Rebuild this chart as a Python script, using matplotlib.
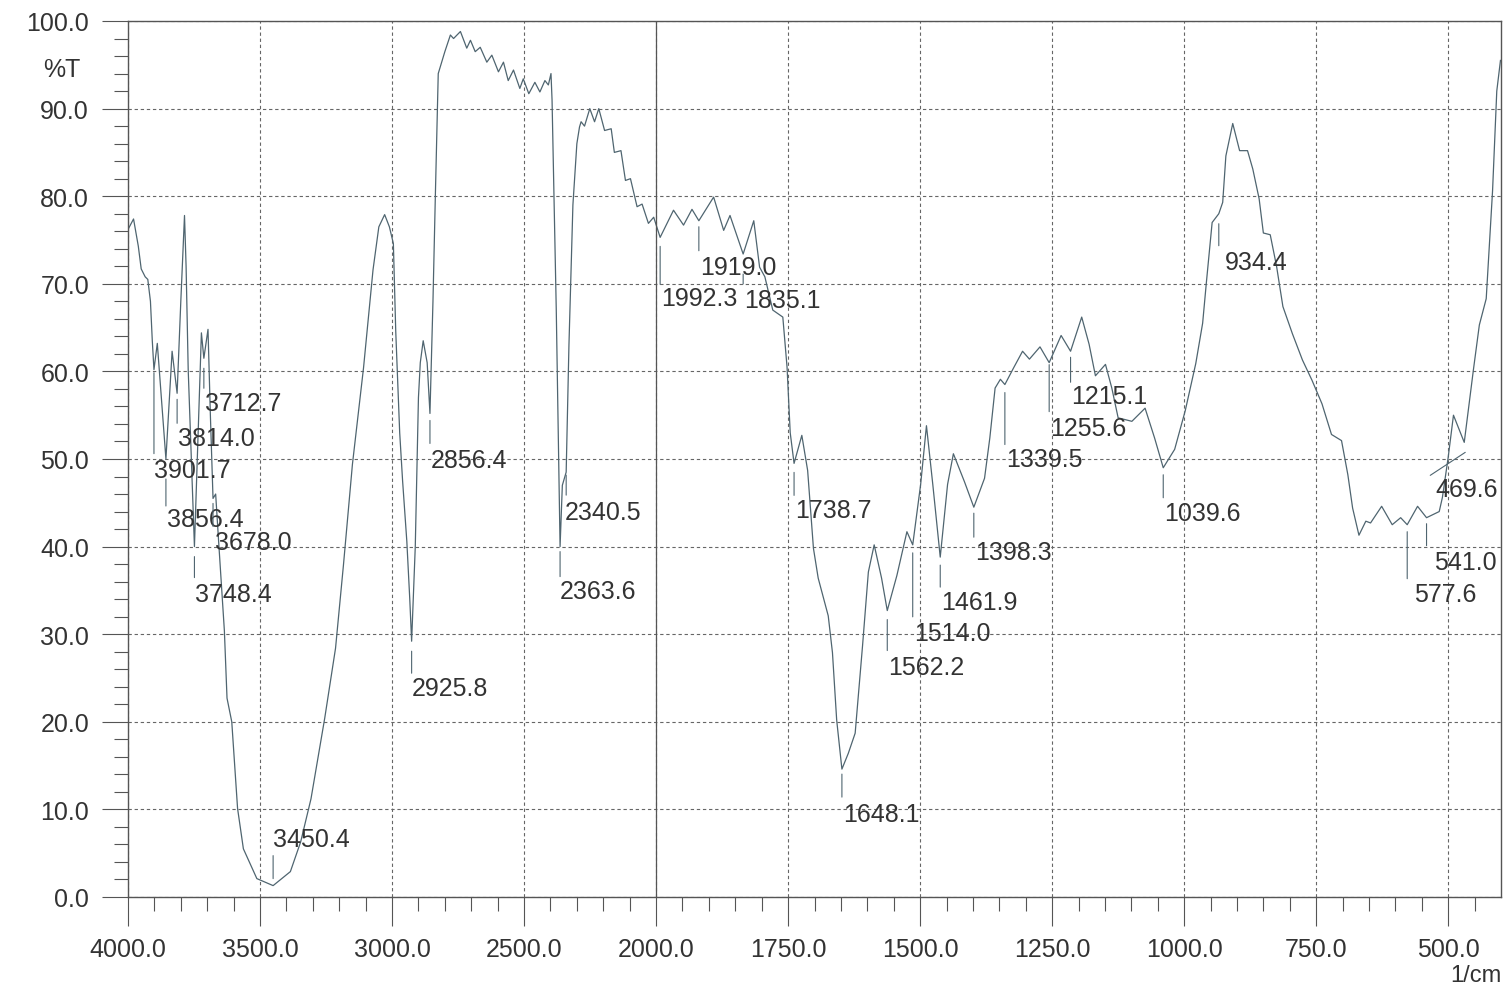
import numpy as np
import matplotlib
matplotlib.use("Agg")
from matplotlib import pyplot as plt
from matplotlib.text import OffsetFrom

plt.rcParams['font.family'] = ['Liberation Sans', 'DejaVu Sans']

# IR spectrum, wavenumber (1/cm) and transmittance (%T)
wavenumber = [
    4000, 3979, 3961, 3950, 3935, 3925, 3915, 3908, 3901.7, 3889, 3856.4, 3833,
    3814.0, 3800, 3786, 3780, 3772, 3748.4, 3722, 3712.7, 3697, 3688, 3678.0,
    3668, 3657, 3635, 3625, 3607, 3585, 3563, 3512, 3450.4, 3385, 3346, 3307,
    3255, 3214, 3184, 3150, 3108, 3072, 3050, 3028, 3010, 2995, 2986, 2971,
    2960, 2944, 2933, 2925.8, 2912, 2900, 2893, 2882, 2867, 2856.4, 2845, 2836,
    2825, 2800, 2779, 2767, 2741, 2717, 2703, 2685, 2666, 2641, 2622, 2597,
    2578, 2560, 2540, 2516, 2503, 2482, 2459, 2440, 2421, 2408, 2398, 2394,
    2378, 2363.6, 2355, 2340.5, 2330, 2315, 2300, 2290, 2284, 2271, 2251, 2233,
    2217, 2195, 2170, 2158, 2133, 2116, 2097, 2072, 2053, 2029, 2009, 1992.3,
    1967, 1948, 1932, 1919.0, 1891, 1872, 1860, 1835.1, 1815, 1804, 1794, 1779,
    1760, 1752, 1746, 1738.7, 1724, 1713, 1702, 1693, 1674, 1666, 1658, 1648.1,
    1636, 1623, 1609, 1598, 1587, 1573, 1562.2, 1544, 1525, 1514.0, 1499, 1488,
    1476, 1461.9, 1448, 1437, 1416, 1398.3, 1378, 1368, 1358, 1348, 1339.5,
    1323, 1306, 1293, 1273, 1255.6, 1233, 1215.1, 1194, 1180, 1168, 1149, 1137,
    1125, 1099, 1074, 1056, 1039.6, 1018, 998, 978, 965, 958, 947, 934.4, 927,
    921, 908, 895, 880, 870, 858, 850, 837, 825, 813, 795, 776, 758, 739, 721,
    702, 690, 681, 669, 656, 647, 626, 606, 590, 577.6, 558, 541.0, 517, 511,
    500, 490, 469.6, 452, 441, 428, 416, 408, 401,
]
transmittance = [
    76.2, 77.4, 74.3, 71.7, 70.8, 70.5, 68.0, 63.5, 60.2, 63.2, 50.0, 62.3,
    57.5, 68.0, 77.8, 72.0, 60.2, 40.0, 64.4, 61.5, 64.8, 55.0, 45.5,
    46.0, 40.7, 30.4, 22.7, 20.0, 10.1, 5.5, 2.1, 1.3, 2.9, 6.3, 11.2,
    20.4, 28.4, 37.9, 49.4, 60.4, 71.6, 76.5, 77.9, 76.5, 74.6, 64.6, 53.0,
    47.5, 40.6, 34.1, 29.2, 40.0, 57.0, 61.0, 63.5, 61.0, 55.2, 68.0, 80.0,
    94.0, 96.5, 98.4, 98.0, 98.8, 96.9, 97.8, 96.5, 97.0, 95.3, 96.1, 94.2,
    95.3, 93.2, 94.4, 92.3, 93.4, 91.7, 93.0, 91.9, 93.2, 92.7, 94.0, 91.0,
    67.0, 40.0, 47.0, 48.5, 63.0, 79.0, 86.0, 87.9, 88.5, 88.0, 90.0, 88.5,
    90.0, 87.5, 87.7, 85.0, 85.2, 81.8, 82.0, 78.8, 79.1, 76.9, 77.6, 75.3,
    78.4, 76.7, 78.5, 77.2, 79.9, 76.1, 77.8, 73.4, 77.2, 71.9, 70.8, 67.0,
    66.2, 60.5, 53.0, 49.5, 52.7, 48.7, 39.8, 36.4, 32.1, 27.9, 20.2, 14.6,
    16.4, 18.7, 28.7, 37.1, 40.2, 36.4, 32.7, 36.7, 41.7, 40.2, 47.1, 53.8,
    47.1, 38.8, 47.1, 50.6, 47.4, 44.5, 47.8, 52.4, 58.1, 59.1, 58.5,
    60.4, 62.3, 61.4, 62.8, 61.0, 64.1, 62.3, 66.2, 63.1, 59.5, 60.8, 58.1,
    54.7, 54.3, 55.8, 52.4, 49.0, 51.1, 55.5, 60.9, 65.5, 70.1, 77.0, 78.0, 79.3,
    84.6, 88.3, 85.2, 85.2, 83.1, 79.7, 75.8, 75.6, 72.0, 67.4, 64.3, 61.3, 59.0, 56.3, 52.8,
    52.1, 48.2, 44.4, 41.3, 42.9, 42.7, 44.6, 42.5, 43.3, 42.5, 44.6, 43.3, 44.0, 45.6,
    50.2, 55.0, 51.9, 60.3, 65.3, 68.3, 80.6, 92.0, 95.5,
]

# labelled peaks
peaks = [3901.7, 3856.4, 3814.0, 3748.4, 3712.7, 3678.0, 3450.4, 2925.8, 2856.4,
         2363.6, 2340.5, 1992.3, 1919.0, 1835.1, 1738.7, 1648.1, 1562.2, 1514.0,
         1461.9, 1398.3, 1339.5, 1255.6, 1215.1, 1039.6, 934.4, 577.6, 541.0, 469.6]

x_major = [4000, 3500, 3000, 2500, 2000, 1750, 1500, 1250, 1000, 750, 500]
y_major = [0, 10, 20, 30, 40, 50, 60, 70, 80, 90, 100]

# label layout, pixels below the peak: tick start, tick end, text centre, text dx
layout = {
    3901.7: (3, 84, 100, 0), 3856.4: (20, 47, 60, 1), 3814.0: (6, 30, 45, 1),
    3748.4: (10, 31, 47, 1), 3712.7: (10, 30, 45, 1), 3678.0: (5, 28, 44, 2),
    3450.4: (-7, -30, -47, 0), 2925.8: (10, 32, 47, 0), 2856.4: (7, 30, 47, 1),
    2363.6: (5, 30, 44, 0), 2340.5: (3, 23, 40, -1), 1992.3: (9, 47, 61, 1),
    1919.0: (6, 30, 46, 1), 1835.1: (20, 30, 46, 1), 1738.7: (9, 32, 47, 1),
    1648.1: (5, 28, 45, 1), 1562.2: (9, 40, 56, 1), 1514.0: (8, 72, 88, 1),
    1461.9: (8, 30, 45, 1), 1398.3: (6, 30, 45, 1), 1339.5: (8, 60, 74, 1),
    1255.6: (2, 49, 65, 1), 1215.1: (6, 31, 45, 1), 1039.6: (7, 30, 45, 1),
    934.4: (10, 32, 48, 6), 577.6: (7, 54, 69, 7), 541.0: (6, 28, 44, 7),
    469.6: (None, None, 47, -29),
}

# the instrument halves the scale above 2000 1/cm (increasing map, axis inverted)
def fwd(w):
    w = np.asarray(w, dtype=float)
    return np.where(w >= 2000, (w - 4000) / 2.0, w - 3000)


def inv(u):
    u = np.asarray(u, dtype=float)
    return np.where(u >= -1000, 4000 + 2.0 * u, u + 3000)


ink = '#333333'
line_col = '#4f6570'
grid_col = '#666666'

fig = plt.figure(figsize=(15.07, 9.87), dpi=100)
ax = fig.add_axes([128 / 1507, 89 / 987, 1373 / 1507, 876 / 987])
ax.set_xscale('function', functions=(fwd, inv))
ax.set_xlim(4000, 400)
ax.set_ylim(0, 100)

ax.plot(wavenumber, transmittance, color=line_col, lw=0.9)

ax.set_xticks(x_major)
ax.set_xticklabels(['%.1f' % v for v in x_major])
minor_x = [v for v in range(3900, 2000, -100) if v % 500] + \
          [v for v in range(1950, 400, -50) if v % 250]
ax.set_xticks(minor_x, minor=True)
ax.set_yticks(y_major)
ax.set_yticklabels(['%.1f' % v for v in y_major])
ax.set_yticks([v for v in range(2, 100, 2) if v % 10], minor=True)

ax.tick_params(axis='x', which='major', direction='out', length=21, width=0.8,
               color='#555555', labelsize=18, labelcolor=ink, pad=8)
ax.tick_params(axis='x', which='minor', direction='out', length=10, width=0.8,
               color='#555555')
ax.tick_params(axis='y', which='major', direction='out', length=19, width=0.8,
               color='#555555', labelsize=18, labelcolor=ink, pad=9)
ax.tick_params(axis='y', which='minor', direction='out', length=10, width=0.8,
               color='#555555')

ax.grid(which='major', color=grid_col, lw=0.8, linestyle=(0, (3, 2.5)))
ax.axvline(2000, color='#555555', lw=0.9)
for s in ax.spines.values():
    s.set_color('#555555')
    s.set_linewidth(1.0)

wn_rev = np.array(wavenumber)[::-1]
t_rev = np.array(transmittance)[::-1]
for p in peaks:
    tp = float(np.interp(p, wn_rev, t_rev))
    top, bot, ty, dx = layout[p]
    ref = OffsetFrom(ax.transData, (p, tp), unit='pixels')
    if top is not None:
        ax.annotate('', xy=(0, -top), xycoords=ref, xytext=(0, -bot),
                    textcoords=ref,
                    arrowprops=dict(arrowstyle='-', color=line_col, lw=0.8,
                                    shrinkA=0, shrinkB=0))
    else:
        ax.annotate('', xy=(1, -10), xycoords=ref, xytext=(-34, -33),
                    textcoords=ref,
                    arrowprops=dict(arrowstyle='-', color=line_col, lw=0.8,
                                    shrinkA=0, shrinkB=0))
    ax.annotate('%.1f' % p, xy=(dx, -ty), xycoords=ref, ha='left', va='center',
                fontsize=18, color=ink)

fig.text(80 / 1507, 1 - 70 / 987, '%T', ha='right', va='center', fontsize=18,
         color=ink)
fig.text(1502 / 1507, 1 - 976 / 987, '1/cm', ha='right', va='center',
         fontsize=17, color=ink)

fig.savefig('out.png', dpi=100, facecolor='white')
